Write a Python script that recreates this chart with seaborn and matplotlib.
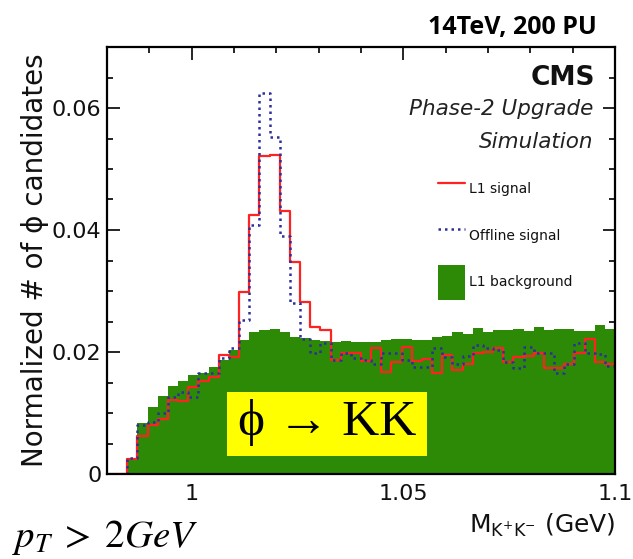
import numpy as np
import pandas as pd
import matplotlib
matplotlib.use("Agg")
import matplotlib.pyplot as plt
from matplotlib.patches import Rectangle
from matplotlib.ticker import MultipleLocator
import seaborn as sns

# ----------------------------
# Data, 50 bins from 0.98 to 1.10 GeV
# ----------------------------
mass_lo, mass_hi, n_bins = 0.98, 1.10, 50

l1_signal = [0, 0, 0.0025, 0.0062, 0.0080, 0.0090, 0.0121, 0.0119, 0.0143, 0.0153,
             0.0159, 0.0195, 0.0191, 0.0298, 0.0425, 0.0521, 0.0523, 0.0431, 0.0347, 0.0282,
             0.0241, 0.0236, 0.0187, 0.0199, 0.0198, 0.0185, 0.0206, 0.0167, 0.0183, 0.0209,
             0.0185, 0.0188, 0.0165, 0.0195, 0.0170, 0.0180, 0.0199, 0.0200, 0.0206, 0.0183,
             0.0191, 0.0193, 0.0198, 0.0173, 0.0173, 0.0180, 0.0198, 0.0221, 0.0184, 0.0181]

offline_signal = [0, 0, 0.0026, 0.0080, 0.0086, 0.0100, 0.0126, 0.0135, 0.0126, 0.0165,
                  0.0165, 0.0190, 0.0206, 0.0252, 0.0408, 0.0625, 0.0552, 0.0390, 0.0280, 0.0222,
                  0.0198, 0.0214, 0.0187, 0.0199, 0.0190, 0.0187, 0.0181, 0.0198, 0.0198, 0.0187,
                  0.0176, 0.0176, 0.0206, 0.0192, 0.0181, 0.0193, 0.0211, 0.0207, 0.0204, 0.0184,
                  0.0174, 0.0209, 0.0199, 0.0199, 0.0166, 0.0181, 0.0215, 0.0199, 0.0196, 0.0177]

l1_background = [0, 0, 0.0026, 0.0083, 0.0110, 0.0128, 0.0144, 0.0153, 0.0162, 0.0166,
                 0.0176, 0.0187, 0.0203, 0.0219, 0.0233, 0.0236, 0.0237, 0.0233, 0.0225, 0.0223,
                 0.0220, 0.0218, 0.0217, 0.0218, 0.0217, 0.0216, 0.0216, 0.0219, 0.0221, 0.0221,
                 0.0220, 0.0219, 0.0225, 0.0227, 0.0232, 0.0229, 0.0239, 0.0233, 0.0236, 0.0236,
                 0.0237, 0.0235, 0.0241, 0.0236, 0.0237, 0.0237, 0.0235, 0.0235, 0.0244, 0.0238]

legend_labels = ["L1 signal", "Offline signal", "L1 background"]
x_ticks = [1.0, 1.05, 1.1]
x_tick_labels = ["1", "1.05", "1.1"]
y_ticks = [0, 0.02, 0.04, 0.06]
y_tick_labels = ["0", "0.02", "0.04", "0.06"]

edges = np.linspace(mass_lo, mass_hi, n_bins + 1)
df = pd.DataFrame({
    "mass": 0.5 * (edges[:-1] + edges[1:]),
    "l1_signal": l1_signal,
    "offline_signal": offline_signal,
    "l1_background": l1_background,
})

# ----------------------------
# Style
# ----------------------------
sns.set_style("ticks")
plt.rcParams["font.family"] = ["DejaVu Sans"]
plt.rcParams["text.color"] = "#111111"
plt.rcParams["axes.labelcolor"] = "#111111"
plt.rcParams["xtick.labelcolor"] = "#111111"
plt.rcParams["ytick.labelcolor"] = "#111111"

GREEN = "#2c8a06"
RED = "#ff2222"
BLUE = "#2e2e9c"

W, H = 633, 559
fig = plt.figure(figsize=(W / 100, H / 100), dpi=100)
ax = fig.add_axes([107 / W, 1 - 474 / H, (615 - 107) / W, (474 - 47) / H])

# ----------------------------
# Histograms
# ----------------------------
hist_kw = dict(x="mass", bins=n_bins, binrange=(mass_lo, mass_hi), element="step", ax=ax)
sns.histplot(df, weights="l1_background", fill=True, color=GREEN, alpha=1, linewidth=0,
             label=legend_labels[2], **hist_kw)
sns.histplot(df, weights="l1_signal", fill=False, color=RED, linewidth=1.6,
             label=legend_labels[0], **hist_kw)
sns.histplot(df, weights="offline_signal", fill=False, color=BLUE, linewidth=1.8,
             linestyle=(0, (1, 1.6)), label=legend_labels[1], **hist_kw)

ax.set_xlim(mass_lo, mass_hi)
ax.set_ylim(0, 0.07)
ax.set_xticks(x_ticks)
ax.set_xticklabels(x_tick_labels)
ax.set_yticks(y_ticks)
ax.set_yticklabels(y_tick_labels)
ax.xaxis.set_minor_locator(MultipleLocator(0.01))
ax.yaxis.set_minor_locator(MultipleLocator(0.005))
ax.tick_params(which="both", direction="in", top=True, right=True, color="black", width=1.2)
ax.tick_params(which="major", length=9, labelsize=16)
ax.tick_params(which="minor", length=4.5)
ax.tick_params(axis="y", which="major", pad=4)
ax.tick_params(axis="x", which="major", pad=7)
for s in ax.spines.values():
    s.set_linewidth(1.6)
    s.set_color("black")

ax.set_ylabel("Normalized # of ϕ candidates", fontsize=20, labelpad=2)
ax.set_xlabel(r"M$_{\mathregular{K^{+}K^{-}}}$ (GeV)", fontsize=18, loc="right", labelpad=6)

# ----------------------------
# Legend
# ----------------------------
handles, labels = ax.get_legend_handles_labels()
order = [labels.index(l) for l in legend_labels]
ax.legend([handles[i] for i in order], [labels[i] for i in order],
          loc="upper left", bbox_to_anchor=(438 / W, 1 - 172 / H), bbox_transform=fig.transFigure,
          frameon=False, fontsize=10, handlelength=1.95, handleheight=3.5,
          handletextpad=0.25, labelspacing=0.82, borderpad=0, borderaxespad=0)

# ----------------------------
# CMS labels
# ----------------------------
fig.text(595 / W, 1 - 78 / H, "CMS", fontsize=19, fontweight="bold", ha="right", va="center")
fig.text(593 / W, 1 - 109 / H, "Phase-2 Upgrade", fontsize=15.5, style="italic",
         ha="right", va="center", color="#222222")
fig.text(593 / W, 1 - 142 / H, "Simulation", fontsize=15.5, style="italic",
         ha="right", va="center", color="#222222")

# slide annotations
fig.text(597 / W, 1 - 34 / H, "14TeV, 200 PU", fontsize=18, fontweight="bold",
         family=["Open Sans", "DejaVu Sans"], ha="right", va="baseline", color="black")
fig.text(12 / W, 1 - 547 / H, r"$p_T\;>\;2GeV$", fontsize=28, math_fontfamily="stix",
         ha="left", va="baseline", color="black")

fig.patches.append(Rectangle((227 / W, 1 - 456 / H), 200 / W, 64 / H, transform=fig.transFigure,
                             facecolor="#ffff00", edgecolor="none", zorder=5))
fig.text(327 / W, 1 - 423 / H, "ϕ → KK", fontsize=37, family=["Liberation Serif", "DejaVu Serif"],
         ha="center", va="center", zorder=6, color="black")

fig.savefig("out.png", dpi=100)
